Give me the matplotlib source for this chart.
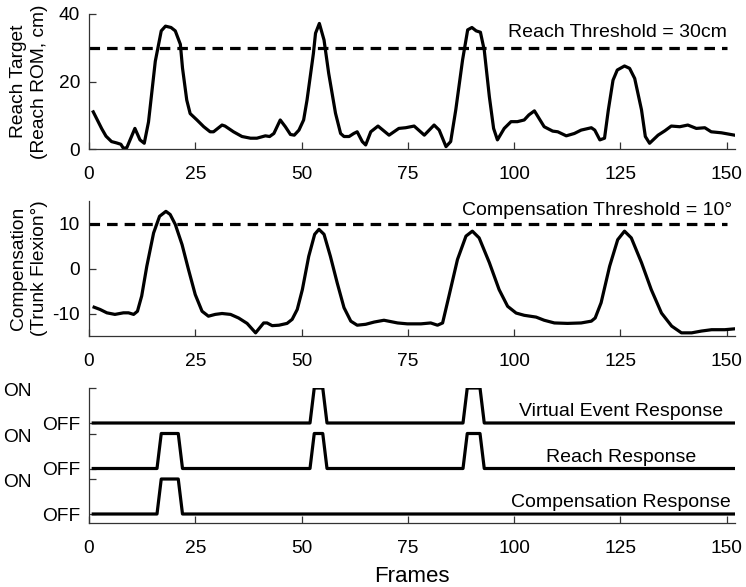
import matplotlib
matplotlib.use('Agg')
import matplotlib.pyplot as plt
from matplotlib.transforms import blended_transform_factory

plt.rcParams['font.family'] = ['Liberation Sans', 'DejaVu Sans']
plt.rcParams['axes.unicode_minus'] = False

# ---- data ----
reach_frames = [1, 2, 3, 4, 5.3, 6.5, 7.5, 8.1, 8.9, 10.8, 12, 13, 14, 15.6, 17, 18, 19.3, 20.3,
                21.5, 22, 23, 23.8, 25.4, 27, 28.5, 29.3, 31.3, 32, 34, 36, 38, 39.5, 41.5,
                42.5, 43.5, 45, 46.2, 47.4, 48.3, 49.4, 50.5, 51.3, 52.8, 53.3, 54.2, 55.3,
                56.4, 58, 59.2, 60, 61.2, 62.3, 63.1, 64.3, 65.1, 66.3, 68, 70.6, 72.9, 74.5,
                76.5, 78.9, 81.2, 82.4, 84, 85.1, 86.3, 87.9, 89.1, 90.1, 91.1, 92.1, 93.0,
                94.2, 95.2, 96.1, 97.7, 99.3, 100.8, 102.4, 103.5, 104.8, 107.1, 109.1, 110.3,
                112.3, 114.2, 115.8, 118.2, 119, 120.2, 121.3, 122.2, 123.3, 124.3, 126,
                127.2, 128.4, 130, 130.9, 131.9, 133.9, 135.5, 137, 139, 140.9, 142.9, 144.9,
                146.4, 148.8, 151.9]
reach_rom = [11, 8.5, 6, 3.8, 2.2, 1.8, 1.4, 0.2, 0.4, 6.1, 2.7, 1.7, 8, 26, 35, 36.4, 36,
             35, 31, 24, 14.5, 10.5, 8.6, 6.6, 5.1, 5.1, 7.1, 6.8, 5.1, 3.7, 3.2, 3.2, 3.9,
             3.7, 4.6, 8.6, 6.6, 4.3, 4.1, 5.6, 8.6, 14.5, 28.3, 34.3, 37.2, 32.3, 22.4,
             10.6, 4.6, 3.7, 3.7, 4.6, 5.1, 2.2, 1.2, 5.1, 6.8, 4.1, 6.1, 6.3, 6.8, 4.1,
             7.1, 5.6, 0.7, 2.2, 11.6, 26.4, 35.3, 36, 35, 34.6, 29.3, 15.5, 6.1, 2.7, 6.1,
             8.1, 8.1, 8.6, 10.1, 11.3, 6.6, 5.3, 5.1, 3.9, 4.6, 5.6, 6.3, 5.6, 2.7, 3.2,
             11.6, 20.4, 23.4, 24.6, 23.9, 20.9, 11.6, 3.7, 1.7, 4.1, 5.4, 6.8, 6.6, 7.1,
             6.1, 6.3, 5.1, 4.8, 4.1]

comp_frames = [1.2, 2.6, 4.2, 6.1, 8.1, 9.3, 10.5, 11.4, 12.4, 13.6, 15.2, 16.6, 18.1, 19.1,
               20.3, 21.9, 23.4, 25, 26.6, 28.1, 29.7, 31.3, 33.3, 35.2, 37.2, 39.2, 41.1,
               41.9, 43.1, 44.7, 46.6, 47.8, 49, 50.2, 51.7, 53.1, 54.1, 55.3, 56.8, 58.4,
               60, 61.6, 63.1, 65.1, 67.1, 69.4, 72.6, 74.9, 78.1, 80.4, 82, 83.2, 84.7,
               86.7, 88.7, 90.2, 91.8, 94.2, 96.5, 98.5, 100.5, 102.4, 105.2, 107.1, 109.5,
               112.6, 115.8, 118.2, 119.1, 120.5, 122.5, 124.4, 126, 127.6, 130, 132.3,
               134.7, 137.1, 139.4, 141.8, 144.1, 146.5, 149.6, 152]
trunk_flexion = [-8.6, -9.1, -9.85, -10.2, -9.85, -9.85, -10.2, -9.5, -6.1, 0.5, 7.9, 11.6,
                 12.7, 12, 9.8, 5.3, -0.2, -5.8, -9.5, -10.6, -10.2, -10, -10.2, -11, -12.2,
                 -14.3, -12.1, -12.1, -12.7, -12.6, -12.2, -11.3, -9.1, -4.7, 2.7, 7.6, 8.7,
                 7.6, 2.7, -3.2, -8.7, -11.7, -12.6, -12.4, -11.9, -11.5, -12.1, -12.3,
                 -12.3, -12.1, -12.6, -12.1, -6.1, 2, 7.2, 8.3, 6.8, 1.3, -4.7, -8.4, -9.9,
                 -10.4, -10.8, -11.5, -12.1, -12.2, -12.1, -11.7, -11, -7.6, 0.5, 6.4, 8.3,
                 6.8, 1.3, -4.7, -9.9, -12.8, -14.3, -14.3, -13.9, -13.6, -13.6, -13.4]

reach_threshold = 30
comp_threshold = 10

frames = list(range(1, 153))
virtual_on = [53, 54, 55, 89, 90, 91, 92]
reach_on = [17, 18, 19, 20, 21, 53, 54, 55, 89, 90, 91, 92]
comp_on = [17, 18, 19, 20, 21]
responses = [('Virtual Event Response', virtual_on, 2.6),
             ('Reach Response', reach_on, 1.3),
             ('Compensation Response', comp_on, 0.0)]

xticks = [0, 25, 50, 75, 100, 125, 150]

W, H = 746, 587
fig = plt.figure(figsize=(W / 100, H / 100), dpi=100)
left, width = 89 / W, 646 / W
ax1 = fig.add_axes([left, 1 - 149 / H, width, 135 / H])
ax2 = fig.add_axes([left, 1 - 336 / H, width, 135 / H])
ax3 = fig.add_axes([left, 1 - 523 / H, width, 135 / H])

LW = 2.3
FS = 13.8
TFS = 14
dash = (3.3, 2.2)

for ax in (ax1, ax2, ax3):
    ax.set_xlim(0, 152)
    ax.set_xticks(xticks)
    ax.spines['top'].set_visible(False)
    ax.spines['right'].set_visible(False)
    for s in ('left', 'bottom'):
        ax.spines[s].set_color('#333333')
        ax.spines[s].set_linewidth(0.9)
    ax.tick_params(direction='in', length=5, width=0.9, color='#333333',
                   labelsize=FS)
    ax.tick_params(axis='x', pad=12)
    ax.tick_params(axis='y', pad=6.5)
    ax.patch.set_alpha(0)

# top: reach
ax1.plot(reach_frames, reach_rom, color='black', lw=LW)
ax1.axhline(reach_threshold, xmin=0, xmax=150 / 152, color='black', lw=LW, dashes=dash)
ax1.set_ylim(0, 40)
ax1.set_yticks([0, 20, 40])
ax1.set_ylabel('Reach Target\n(Reach ROM, cm)', fontsize=FS, linespacing=1.3)
ax1.yaxis.set_label_coords(-0.064, 0.5)
ax1.text(150.2, 34.5, 'Reach Threshold = 30cm', ha='right', va='center', fontsize=TFS)

# middle: compensation
ax2.plot(comp_frames, trunk_flexion, color='black', lw=LW)
ax2.axhline(comp_threshold, xmin=0, xmax=150 / 152, color='black', lw=LW, dashes=dash)
ax2.set_ylim(-15, 15)
ax2.set_yticks([-10, 0, 10])
ax2.set_ylabel('Compensation\n(Trunk Flexion°)', fontsize=FS, linespacing=1.3)
ax2.yaxis.set_label_coords(-0.064, 0.5)
ax2.text(151.4, 12.9, 'Compensation Threshold = 10°', ha='right', va='center', fontsize=TFS)

# bottom: binary responses
ticks, labels = [], []
trans = blended_transform_factory(fig.transFigure, ax3.transData)
for name, on_frames, base in responses:
    state = [base + (1 if f in on_frames else 0) for f in frames]
    ax3.plot(frames, state, color='black', lw=LW)
    ax3.text(125.2, base + 0.32, name, ha='center', va='center', fontsize=TFS)
    ticks += [base, base + 1]
    labels += ['OFF', '']
    ax3.text(17 / W, base + 0.9, 'ON', ha='center', va='center', fontsize=FS,
             transform=trans)
ax3.set_ylim(-0.257, 3.6)
ax3.set_yticks(ticks)
ax3.set_yticklabels(labels)
ax3.set_xlabel('Frames', fontsize=16, labelpad=7)

fig.savefig('out.png', dpi=100, facecolor='white')
